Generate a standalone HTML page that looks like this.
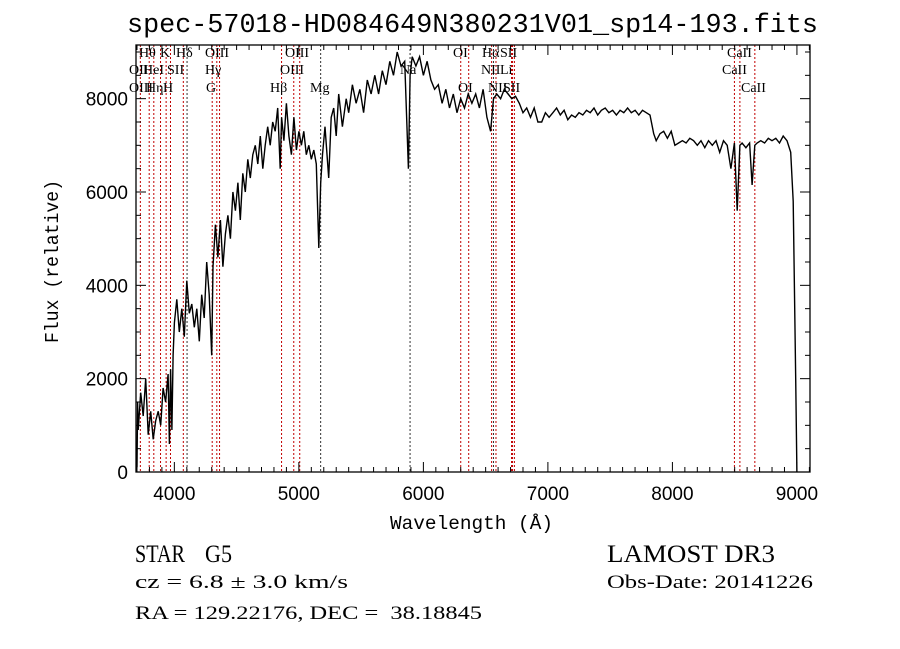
<!DOCTYPE html>
<html><head><meta charset="utf-8"><style>
html,body{margin:0;padding:0;background:#fff;width:900px;height:649px;overflow:hidden}
svg{display:block}
text{fill:#000;white-space:pre}
</style></head><body>
<svg id="chart" width="900" height="649" viewBox="0 0 900 649" xmlns="http://www.w3.org/2000/svg">
<rect x="0" y="0" width="900" height="649" fill="#fff"/>
<text x="127" y="32" font-family="Liberation Mono, monospace" font-size="27" textLength="691" lengthAdjust="spacingAndGlyphs">spec-57018-HD084649N380231V01_sp14-193.fits</text>
<g id="lines"></g>
<g id="spec"></g>
<g id="axes"></g>
<text x="390" y="529" font-family="Liberation Mono, monospace" font-size="19" textLength="163" lengthAdjust="spacingAndGlyphs">Wavelength (Å)</text>
<text transform="translate(58,343) rotate(-90)" font-family="Liberation Mono, monospace" font-size="19" textLength="163" lengthAdjust="spacingAndGlyphs">Flux (relative)</text>
<text x="135" y="562" font-family="Liberation Serif, serif" font-size="25" textLength="50" lengthAdjust="spacingAndGlyphs">STAR</text>
<text x="205" y="562" font-family="Liberation Serif, serif" font-size="25" textLength="27" lengthAdjust="spacingAndGlyphs">G5</text>
<text x="607" y="562" font-family="Liberation Serif, serif" font-size="25" textLength="168" lengthAdjust="spacingAndGlyphs">LAMOST DR3</text>
<text x="135" y="588" font-family="Liberation Serif, serif" font-size="19" textLength="213" lengthAdjust="spacingAndGlyphs">cz = 6.8 ± 3.0 km/s</text>
<text x="607" y="588" font-family="Liberation Serif, serif" font-size="19" textLength="206" lengthAdjust="spacingAndGlyphs">Obs-Date: 20141226</text>
<text x="135" y="619" font-family="Liberation Serif, serif" font-size="19" textLength="347" lengthAdjust="spacingAndGlyphs" xml:space="preserve">RA = 129.22176, DEC =  38.18845</text>
</svg>
<script>
const wavelengths = [3700,3705,3710,3730,3750,3770,3790,3810,3830,3850,3870,3890,3910,3930,3950,3960,3970,3980,3990,4000,4020,4040,4060,4080,4100,4120,4140,4160,4180,4200,4220,4240,4260,4280,4300,4310,4330,4350,4370,4390,4410,4430,4450,4470,4490,4510,4530,4550,4570,4590,4610,4630,4650,4670,4690,4710,4730,4750,4770,4790,4810,4830,4850,4861,4880,4900,4920,4940,4960,4980,5000,5020,5040,5060,5080,5100,5120,5140,5160,5175,5190,5210,5240,5260,5280,5300,5320,5350,5380,5400,5430,5460,5490,5520,5550,5580,5610,5640,5670,5700,5730,5760,5790,5820,5850,5880,5893,5910,5940,5970,6000,6030,6060,6090,6120,6150,6180,6210,6240,6270,6300,6330,6360,6390,6420,6450,6480,6510,6540,6563,6590,6620,6650,6680,6710,6740,6770,6800,6830,6860,6890,6920,6950,6980,7010,7040,7070,7100,7130,7160,7190,7220,7250,7280,7310,7340,7370,7400,7430,7460,7490,7520,7550,7580,7610,7640,7670,7700,7730,7760,7790,7820,7850,7870,7900,7930,7960,7990,8020,8050,8080,8110,8140,8170,8200,8230,8260,8290,8320,8350,8380,8410,8440,8470,8498,8520,8542,8560,8590,8620,8640,8662,8680,8710,8740,8770,8800,8830,8860,8890,8920,8950,8970,8990,9000,9003];
const fluxes = [100,1500,900,1700,1200,2000,800,1300,700,1100,1300,1000,1800,1500,2100,600,2200,900,2500,3200,3700,3000,3500,2900,4100,3400,3600,3100,3500,2800,3800,3300,4500,3800,2500,4400,5300,4600,5400,4400,5100,5500,5000,6000,5600,6200,5400,6400,6000,6700,6300,6800,7000,6600,7200,6500,7000,7400,7000,7500,7300,7800,6500,7600,7100,7900,7200,6800,7600,6900,7300,7000,7300,6800,7000,6700,6900,6600,4800,6200,6800,7400,6300,7600,7800,7200,8100,7400,8000,7700,8300,7900,8200,7700,8400,8100,8500,8100,8600,8300,8800,8500,9000,8700,8800,6500,8500,8900,8700,8900,8500,8800,8400,8200,8300,7900,8200,7800,8100,7700,8000,7800,8100,7900,8100,7800,8200,7600,7300,8000,8100,8000,8200,8100,8000,8050,7900,7700,7800,7600,7800,7500,7500,7700,7600,7700,7800,7650,7750,7550,7650,7600,7700,7650,7750,7700,7800,7650,7750,7800,7700,7750,7650,7750,7700,7800,7700,7750,7650,7750,7700,7650,7250,7100,7250,7300,7150,7300,7000,7050,7100,7050,7150,7100,7000,7100,6950,7100,7000,7100,6850,7100,7000,6500,7050,5600,7000,7050,6950,7050,6150,7000,7050,7100,7050,7150,7100,7150,7050,7200,7100,6850,5800,2000,0];
const lineWaves = [3727,3798,3835,3889,3934,3969,4072,4102,4304,4341,4363,4861,4959,5007,5175,5893,6300,6364,6548,6563,6583,6708,6716,6731,8498,8542,8662];
const lineLabels = [
 ['Hθ',139,57],['K',160,57],['Hδ',176,57],['OIII',205,57],['OIII',285,57],['OI',453,57],['Hα',482,57],['SII',500,57],['CaII',727,57],
 ['OII',129,74],['HeI',143,74],['SII',167,74],['Hγ',205,74],['OIII',280,74],['Na',400,74],['NII',481,74],['Li',500,74],['CaII',722,74],
 ['OIII',129,92],['Hη',146,92],['H',163,92],['G',206,92],['Hβ',270,92],['Mg',310,92],['OI',458,92],['NII',488,92],['SII',503,92],['CaII',741,92]
];
const xTicks = [4000,5000,6000,7000,8000,9000];
const yTicks = [0,2000,4000,6000,8000];

const L=136,R=810,T=45,B=472;
const xMin=3692,xMax=9105,yMin=0,yMax=9150;
function X(w){return L+(w-xMin)/(xMax-xMin)*(R-L);}
function Y(f){return B-(f-yMin)/(yMax-yMin)*(B-T);}
const NS='http://www.w3.org/2000/svg';
function mk(tag,attrs,parent){const e=document.createElementNS(NS,tag);for(const k in attrs)e.setAttribute(k,attrs[k]);parent.appendChild(e);return e;}

const gl=document.getElementById('lines');
const blackLines=[4102,5175,5893,6563];
lineWaves.forEach(w=>{
  const e=mk('line',{x1:X(w),x2:X(w),y1:T,y2:B,stroke:blackLines.includes(w)?'#333':'#c00000','stroke-width':1,'stroke-dasharray':'2,2'},gl);
  
  
});
lineLabels.forEach(l=>{
  const t=mk('text',{x:l[1],y:l[2],'font-family':'Liberation Serif, serif','font-size':14},gl);
  t.textContent=l[0];
  
  
});

const gs=document.getElementById('spec');
let d='';
wavelengths.forEach((w,i)=>{const y=Math.max(T,Math.min(B,Y(fluxes[i])));d+=(i?'L':'M')+X(w).toFixed(1)+','+y.toFixed(1);});
const p=mk('path',{d:d,fill:'none',stroke:'#000','stroke-width':1.4,'stroke-linejoin':'miter'},gs);



const ga=document.getElementById('axes');
const fr=mk('rect',{x:L,y:T,width:R-L,height:B-T,fill:'none',stroke:'#000','stroke-width':1.3},ga);


for(let w=3700;w<=9100;w+=100){
  const maj=w%1000===0;const len=maj?10:5;const x=X(w);
  mk('line',{x1:x,x2:x,y1:B,y2:B-len,stroke:'#000','stroke-width':1},ga);
  mk('line',{x1:x,x2:x,y1:T,y2:T+len,stroke:'#000','stroke-width':1},ga);
}
for(let f=0;f<=9000;f+=500){
  const maj=f%2000===0;const len=maj?10:5;const y=Y(f);
  mk('line',{x1:L,x2:L+len,y1:y,y2:y,stroke:'#000','stroke-width':1},ga);
  mk('line',{x1:R,x2:R-len,y1:y,y2:y,stroke:'#000','stroke-width':1},ga);
}
xTicks.forEach(w=>{
  const t=mk('text',{x:X(w),y:500,'text-anchor':'middle','font-family':'Liberation Sans, sans-serif','font-size':19},ga);
  t.textContent=String(w);
  
  
});
yTicks.forEach(f=>{
  const t=mk('text',{x:128,y:Y(f)+7,'text-anchor':'end','font-family':'Liberation Sans, sans-serif','font-size':19},ga);
  t.textContent=String(f);
  
  
});
</script>
</body></html>
